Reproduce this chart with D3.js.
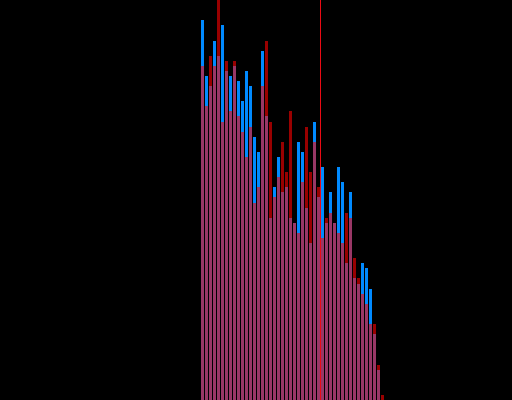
<!DOCTYPE html>
<html>
<head>
<meta charset="utf-8">
<script src="https://cdn.jsdelivr.net/npm/d3@7"></script>
<style>
  html, body { margin: 0; padding: 0; background: #000; }
  svg { display: block; }
</style>
</head>
<body>
<svg id="chart" width="512" height="400"></svg>
<script>
// bin index (left edge) of each bar
var bins = d3.range(46);

// counts per bin
var blueCounts = [75, 64, 62, 71, 68, 74, 65, 64, 66, 63, 59, 65, 62, 52, 49, 69,
                  56, 36, 42, 48, 41, 42, 36, 35, 51, 49, 38, 31, 55, 40, 46, 35,
                  41, 35, 46, 43, 27, 41, 24, 23, 27, 26, 22, 13, 6, 0];
var redCounts  = [66, 58, 68, 66, 79, 55, 67, 57, 67, 56, 53, 48, 54, 39, 42, 62,
                  71, 55, 40, 44, 51, 45, 57, 35, 33, 43, 54, 45, 51, 42, 32, 36,
                  37, 35, 33, 31, 37, 36, 28, 24, 21, 19, 15, 15, 7, 1];

// marker position (in bin units)
var threshold = 29.75;

var W = 512, H = 400;
var svg = d3.select('#chart');

var x = d3.scaleLinear().domain([0, 46]).range([201, 385]);
var y = d3.scaleLinear().domain([0, 79]).range([H, 0]);

function drawBars(counts, fill, opacity) {
    svg.append('g')
        .attr('shape-rendering', 'crispEdges')
        .selectAll('rect').data(bins).join('rect')
        .attr('x', function (d) { return x(d); })
        .attr('width', function (d) { return x(d + 1) - x(d) - 1; })
        .attr('y', function (d) { return Math.round(y(counts[d])); })
        .attr('height', function (d) { return H - Math.round(y(counts[d])); })
        .attr('fill', fill)
        .attr('fill-opacity', opacity);
}

drawBars(blueCounts, 'rgb(0,138,255)', 1);
drawBars(redCounts, 'rgb(255,0,0)', 0.6);

svg.append('line')
    .attr('x1', x(threshold) + 0.5).attr('x2', x(threshold) + 0.5)
    .attr('y1', 0).attr('y2', H)
    .attr('stroke', 'rgb(235,10,20)')
    .attr('stroke-width', 1);
</script>
</body>
</html>
